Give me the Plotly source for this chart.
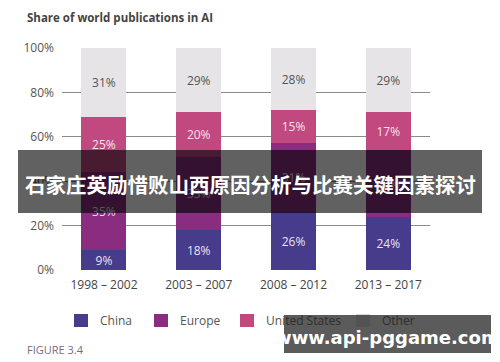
import plotly.graph_objects as go

periods = ["1998 – 2002", "2003 – 2007", "2008 – 2012", "2013 – 2017"]
china = [9, 18, 26, 24]
europe = [35, 33, 31, 30]
united_states = [25, 20, 15, 17]
other = [31, 29, 28, 29]
series_names = ["China", "Europe", "United States", "Other"]
y_ticks = [0, 20, 40, 60, 80, 100]

colors = ["#473b8c", "#8a2d80", "#c1497f", "#e6e4e6"]
text_colors = ["#e8e4f0", "#f0dcea", "#f6e2ec", "#555555"]

W, H = 500, 362
L, R, T, B = 62, 430, 48, 270  # plot area in px


def px(x):
    return (x - L) / (R - L)


def py(y):
    return (B - y) / (B - T)


FONT = "Open Sans, Noto Sans, sans-serif"

fig = go.Figure()
for name, vals, c, tc in zip(series_names, [china, europe, united_states, other], colors, text_colors):
    fig.add_trace(go.Bar(
        x=periods, y=vals, name=name, marker=dict(color=c, line=dict(width=0)),
        text=[f"{v}%" for v in vals], textposition="inside", insidetextanchor="middle",
        textangle=0, constraintext="none",
        textfont=dict(color=tc, size=12, family=FONT), width=0.475,
        hoverinfo="skip", showlegend=False,
    ))

fig.update_layout(
    barmode="stack",
    width=W, height=H,
    margin=dict(l=L, r=W - R, t=T, b=H - B),
    paper_bgcolor="white", plot_bgcolor="white",
    font=dict(family=FONT, color="#555555", size=12),
    uniformtext=dict(minsize=8, mode="show"),
    xaxis=dict(range=[-0.443, 3.44], showgrid=False, zeroline=False, showline=False,
               tickfont=dict(size=12, color="#444444"), ticks="", ticklabelstandoff=6),
    yaxis=dict(range=[0, 100], tickvals=y_ticks, ticktext=[f"{v}%" for v in y_ticks],
               showgrid=True, gridcolor="#8a8a8a", gridwidth=1.3, zeroline=False,
               ticks="", ticklabelstandoff=7, tickfont=dict(size=12, color="#555555")),
)

shapes = []
annotations = []

# title
annotations.append(dict(xref="paper", yref="paper", x=px(25), y=py(17), xanchor="left", yanchor="middle",
                        text="<b>Share of world publications in AI</b>", showarrow=False,
                        font=dict(size=11.5, color="#444444", family=FONT)))

# legend (manual); parts lying under the translucent watermark box are shown darker
legend_labels = ["China", "Europe", "Uni<span style='color:#2e2e2e'>ted States</span>",
                 "<span style='color:#2e2e2e'>Other</span>"]
leg_sq_x = [74, 154, 240, 356]
for name, label, c, sx in zip(series_names, legend_labels, colors, leg_sq_x):
    shapes.append(dict(type="rect", xref="paper", yref="paper", x0=px(sx), x1=px(sx + 14),
                       y0=py(327), y1=py(314), fillcolor=c if name != "Other" else "#d9d7d9",
                       line=dict(width=0), layer="above"))
    annotations.append(dict(xref="paper", yref="paper", x=px(sx + 24), y=py(320.5), xanchor="left",
                            yanchor="middle", text=label, showarrow=False,
                            font=dict(size=12, color="#555555", family=FONT)))

annotations.append(dict(xref="paper", yref="paper", x=px(25), y=py(349), xanchor="left", yanchor="middle",
                        text="FIGURE 3.4", showarrow=False,
                        font=dict(size=11, color="#7a6a80", family=FONT)))

# overlay banner
shapes.append(dict(type="rect", xref="paper", yref="paper", x0=px(18), x1=px(482), y0=py(213), y1=py(150),
                   fillcolor="rgba(0,0,0,0.62)", line=dict(width=0), layer="above"))
annotations.append(dict(xref="paper", yref="paper", x=px(250), y=py(184), xanchor="center", yanchor="middle",
                        text="<b>石家庄英励惜败山西原因分析与比赛关键因素探讨</b>", showarrow=False,
                        font=dict(size=20.5, color="white", family="Noto Sans CJK SC")))

# watermark
shapes.append(dict(type="rect", xref="paper", yref="paper", x0=px(284), x1=px(491), y0=py(353), y1=py(315),
                   fillcolor="rgba(50,50,50,0.8)", line=dict(width=0), layer="above"))
annotations.append(dict(xref="paper", yref="paper", x=px(387), y=py(337), xanchor="center", yanchor="middle",
                        text="<b>www.api-pggame.com</b>", showarrow=False,
                        font=dict(size=18, color="white", family="DejaVu Sans")))

fig.update_layout(shapes=shapes, annotations=annotations)
fig.write_html("out.html", config={"displayModeBar": False},
               post_script="document.body.style.margin='0';document.body.style.padding='0';")
